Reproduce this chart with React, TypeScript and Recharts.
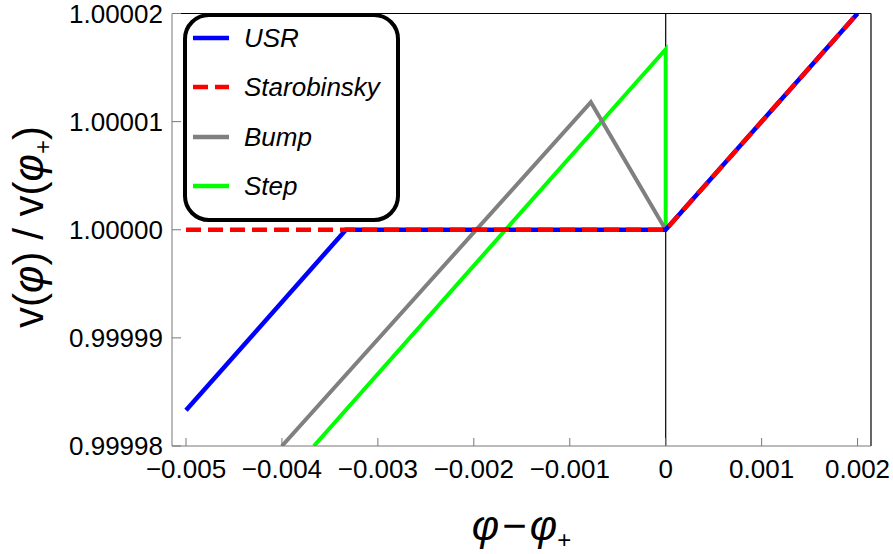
import { LineChart, Line, XAxis, YAxis, ReferenceLine, Label } from 'recharts';

// potential ratio v(phi)/v(phi+)
const phiUSR = [-0.005, -0.003333, 0, 0.002];
const vUSR = [0.9999833, 1.0, 1.0, 1.00002];

const phiStaro = [-0.005, 0, 0.002];
const vStaro = [1.0, 1.0, 1.00002];

const phiBump = [-0.004, -0.00078, 0];
const vBump = [0.99998, 1.0000118, 1.0];

const phiStep = [-0.003667, 0, 0];
const vStep = [0.99998, 1.0000167, 1.0];

const xTicks = [-0.005, -0.004, -0.003, -0.002, -0.001, 0, 0.001, 0.002];
const yTicks = [0.99998, 0.99999, 1.0, 1.00001, 1.00002];
const xDomain = [-0.005146, 0.00214];
const yDomain = [0.99998, 1.00002];

const LEGEND = [
  { label: 'USR', color: '#0000ff', dash: undefined },
  { label: 'Starobinsky', color: '#ff0000', dash: '15 7' },
  { label: 'Bump', color: '#808080', dash: undefined },
  { label: 'Step', color: '#00ff00', dash: undefined },
];

const zip = (xs: number[], ys: number[]) => xs.map((phi, i) => ({ phi, v: ys[i] }));

const FONT = "'Liberation Sans', Arial, sans-serif";
const AXIS = '#777777';

const fmtX = (v: number) => {
  if (Math.abs(v) < 1e-12) return '0';
  const s = Math.abs(v).toFixed(3);
  return v < 0 ? '\u2212' + s : s;
};

const XTick = ({ x, y, payload }: any) => (
  <g>
    <line x1={x} y1={y} x2={x} y2={y - 8} stroke={AXIS} strokeWidth={1} />
    <text x={x} y={y + 32} textAnchor="middle" fontSize={26} fontFamily={FONT} fill="#000">
      {fmtX(payload.value)}
    </text>
  </g>
);

const YTick = ({ x, y, payload }: any) => (
  <g>
    <line x1={x} y1={y} x2={x + 9} y2={y} stroke={AXIS} strokeWidth={1} />
    <text x={x - 9} y={y + 9} textAnchor="end" fontSize={26} fontFamily={FONT} fill="#000">
      {payload.value.toFixed(5)}
    </text>
  </g>
);

function LegendBox() {
  return (
    <div
      style={{
        position: 'absolute',
        left: 183,
        top: 13,
        width: 217,
        height: 209,
        boxSizing: 'border-box',
        border: '4px solid #000',
        borderRadius: 26,
        background: '#fff',
      }}
    >
      {LEGEND.map(({ label, color, dash }, i) => (
        <div
          key={label}
          style={{ position: 'absolute', left: 6, top: 6 + i * 49.3, height: 30, display: 'flex', alignItems: 'center' }}
        >
          <svg width={36} height={8} style={{ display: 'block' }}>
            <line x1={0} y1={4} x2={36} y2={4} stroke={color} strokeWidth={4.5} strokeDasharray={dash} />
          </svg>
          <span style={{ marginLeft: 15, fontFamily: FONT, fontStyle: 'italic', fontSize: 26, color: '#000', lineHeight: '30px' }}>
            {label}
          </span>
        </div>
      ))}
    </div>
  );
}

export default function App() {
  return (
    <div style={{ position: 'absolute', left: 0, top: 0, width: 893, height: 554, background: '#fff' }}>
      <LineChart width={893} height={554} margin={{ top: 13.5, right: 22, bottom: 0, left: 72 }}>
        <XAxis
          type="number"
          dataKey="phi"
          domain={xDomain}
          ticks={xTicks}
          allowDataOverflow
          height={108}
          tickSize={0}
          tickMargin={0}
          tickLine={false}
          axisLine={{ stroke: AXIS }}
          tick={<XTick />}
        >
          <Label
            content={({ viewBox }: any) => (
              <text
                x={viewBox.x + viewBox.width / 2}
                y={viewBox.y + 94}
                textAnchor="middle"
                fontFamily={FONT}
                fontSize={42}
                fill="#000"
              >
                <tspan fontStyle="italic">φ</tspan>
                <tspan dx={3}>−</tspan>
                <tspan dx={3} fontStyle="italic">φ</tspan>
                <tspan fontSize={24} dy={8}>+</tspan>
              </text>
            )}
          />
        </XAxis>
        <YAxis
          type="number"
          domain={yDomain}
          ticks={yTicks}
          allowDataOverflow
          width={100}
          tickSize={0}
          tickMargin={0}
          tickLine={false}
          axisLine={{ stroke: AXIS }}
          tick={<YTick />}
        />
        <ReferenceLine y={yDomain[1]} stroke="#000" strokeWidth={1.2} />
        <ReferenceLine x={xDomain[1]} stroke="#000" strokeWidth={1.2} />
        <ReferenceLine x={0} stroke="#000" strokeWidth={1.2} />

        <Line data={zip(phiStep, vStep)} dataKey="v" name="Step" stroke="#00ff00" strokeWidth={4} dot={false} isAnimationActive={false} />
        <Line data={zip(phiBump, vBump)} dataKey="v" name="Bump" stroke="#808080" strokeWidth={4} dot={false} isAnimationActive={false} />
        <Line data={zip(phiUSR, vUSR)} dataKey="v" name="USR" stroke="#0000ff" strokeWidth={4.5} dot={false} isAnimationActive={false} />
        <Line data={zip(phiStaro, vStaro)} dataKey="v" name="Starobinsky" stroke="#ff0000" strokeWidth={4.5} strokeDasharray="15 7" dot={false} isAnimationActive={false} />
      </LineChart>
      <LegendBox />
      <svg width={80} height={554} style={{ position: 'absolute', left: 0, top: 0 }}>
        <text
          transform="translate(43 227) rotate(-90)"
          textAnchor="middle"
          fontFamily={FONT}
          fontSize={42}
          fill="#000"
        >
          v(<tspan fontStyle="italic">φ</tspan>)  /  v(<tspan fontStyle="italic">φ</tspan>
          <tspan fontSize={24} dy={8}>+</tspan>
          <tspan dy={-8}>)</tspan>
        </text>
      </svg>
    </div>
  );
}
